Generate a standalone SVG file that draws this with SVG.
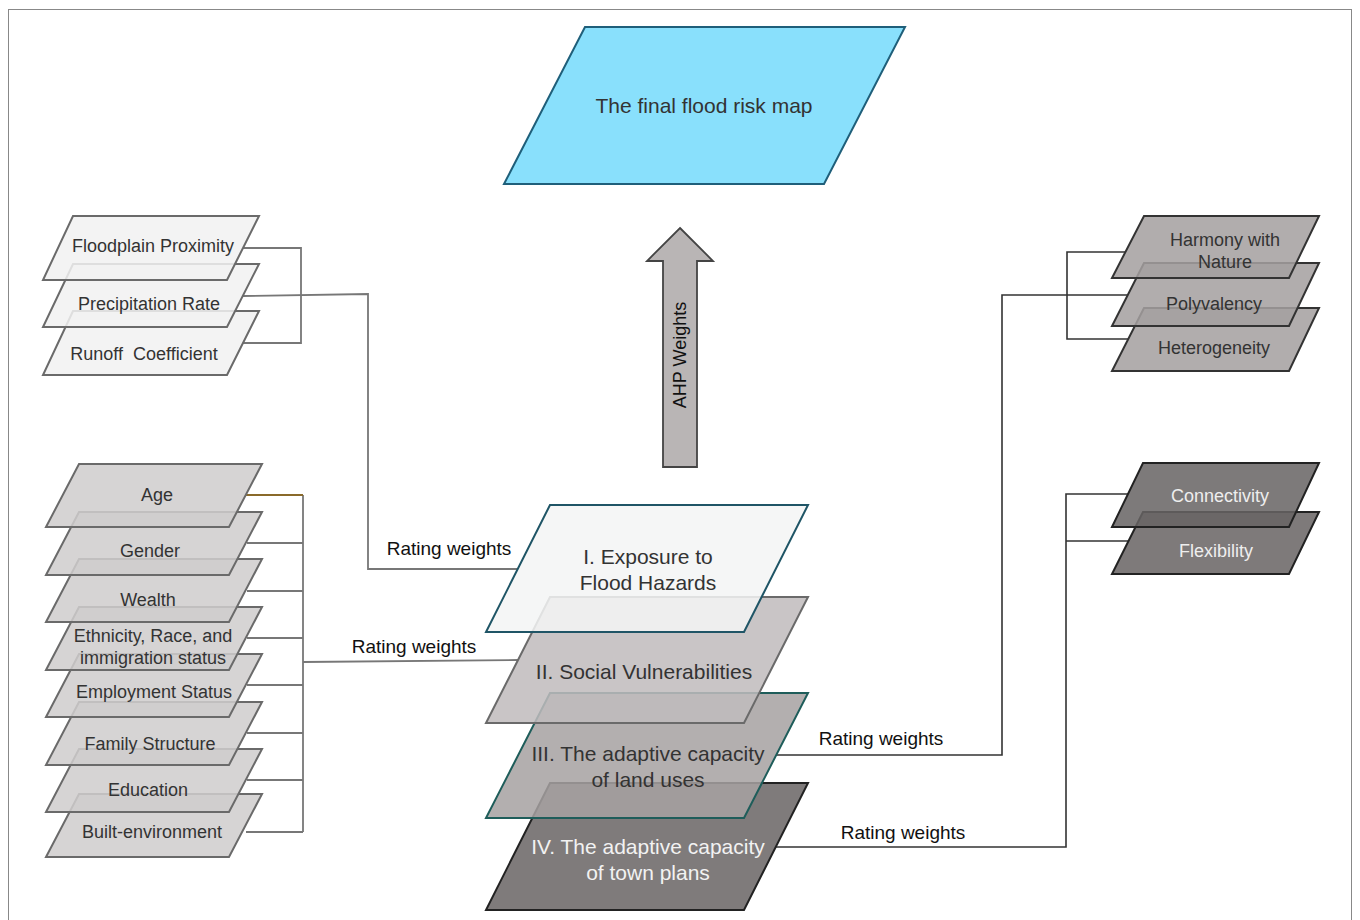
<svg xmlns="http://www.w3.org/2000/svg" width="1360" height="920" viewBox="0 0 1360 920">
<style>
text{font-family:"Liberation Sans",Arial,sans-serif;text-anchor:middle;fill:#333}
.f18{font-size:18px}
.f21{font-size:21px}
.lbl{font-size:19px;fill:#111}
.lay{stroke-width:2;fill-opacity:0.86}
.tf{fill:#f1f1f1;stroke:#6a6a6a}
.sf{fill:#cfcdcd;stroke:#6a6a6a}
.rf{fill:#a49f9f;stroke:#333}
.df{fill:#686464;stroke:#222}
.cg{fill:none;stroke:#777;stroke-width:1.8}
.cd{fill:none;stroke:#333;stroke-width:1.6}
</style>
<rect x="8.5" y="9.5" width="1343" height="930" fill="#fff" stroke="#888" stroke-width="1"/>

<g id="connectors">
<polyline class="cg" points="243,248 301,248 301,343 243,343"/>
<polyline class="cg" points="243,296 368,294 368,569 518,569"/>
<polyline class="cg" points="303,495 303,832"/>
<line x1="246" y1="495" x2="303" y2="495" stroke="#8a6a2a" stroke-width="1.8"/>
<line class="cg" x1="247" y1="543" x2="303" y2="543"/>
<line class="cg" x1="247" y1="591" x2="303" y2="591"/>
<line class="cg" x1="247" y1="638" x2="303" y2="638"/>
<line class="cg" x1="247" y1="685" x2="303" y2="685"/>
<line class="cg" x1="247" y1="733" x2="303" y2="733"/>
<line class="cg" x1="247" y1="780" x2="303" y2="780"/>
<line class="cg" x1="246" y1="832" x2="303" y2="832"/>
<polyline class="cg" points="303,662 518,660"/>
<polyline class="cd" points="776,755 1002,755 1002,295 1128,295"/>
<polyline class="cd" points="1126,252 1067,252 1067,339 1128,339"/>
<polyline class="cd" points="776,847 1066,847 1066,494 1128,494"/>
<line class="cd" x1="1066" y1="541" x2="1128" y2="541"/>
<text class="lbl" x="449" y="555">Rating weights</text>
<text class="lbl" x="414" y="653">Rating weights</text>
<text class="lbl" x="881" y="745">Rating weights</text>
<text class="lbl" x="903" y="839">Rating weights</text>
</g>

<g id="final-map">
<polygon points="585,27 905,27 824,184 504,184" fill="#89e0fc" stroke="#1f5f7a" stroke-width="2"/>
<text class="f21" x="704" y="113">The final flood risk map</text>
</g>

<g id="ahp-arrow">
<polygon points="680,228 713,261 697,261 697,467 663,467 663,261 647,261" fill="#b9b5b5" stroke="#444" stroke-width="1.8"/>
<text class="f18" x="0" y="0" transform="translate(686,355) rotate(-90)" style="fill:#111">AHP Weights</text>
</g>

<g id="hazard-factors">
<g id="runoff"><polygon class="lay tf" points="73,311 259,311 227,375 43,375"/><text class="f18" x="144" y="360" style="white-space:pre">Runoff  Coefficient</text></g>
<g id="precipitation"><polygon class="lay tf" points="73,264 259,264 227,327 43,327"/><text class="f18" x="149" y="310">Precipitation Rate</text></g>
<g id="floodplain"><polygon class="lay tf" points="73,216 259,216 227,280 43,280"/><text class="f18" x="153" y="252">Floodplain Proximity</text></g>
</g>

<g id="social-factors">
<g id="built"><polygon class="lay sf" points="79,794 262,794 229,857 46,857"/><text class="f18" x="152" y="838">Built-environment</text></g>
<g id="education"><polygon class="lay sf" points="79,749 262,749 229,812 46,812"/><text class="f18" x="148" y="796">Education</text></g>
<g id="family"><polygon class="lay sf" points="79,702 262,702 229,765 46,765"/><text class="f18" x="150" y="750">Family Structure</text></g>
<g id="employment"><polygon class="lay sf" points="79,654 262,654 229,717 46,717"/><text class="f18" x="154" y="698">Employment Status</text></g>
<g id="ethnicity"><polygon class="lay sf" points="79,607 262,607 229,670 46,670"/><text class="f18" x="153" y="642">Ethnicity, Race, and</text><text class="f18" x="153" y="664">immigration status</text></g>
<g id="wealth"><polygon class="lay sf" points="79,559 262,559 229,622 46,622"/><text class="f18" x="148" y="606">Wealth</text></g>
<g id="gender"><polygon class="lay sf" points="79,512 262,512 229,575 46,575"/><text class="f18" x="150" y="557">Gender</text></g>
<g id="age"><polygon class="lay sf" points="79,464 262,464 229,527 46,527"/><text class="f18" x="157" y="501">Age</text></g>
</g>

<g id="layers">
<g id="town-plans"><polygon points="550,783 808,783 744,910 486,910" fill="#7f7b7b" stroke="#222" stroke-width="2"/><text class="f21" x="648" y="854" style="fill:#f2f2f2">IV. The adaptive capacity</text><text class="f21" x="648" y="880" style="fill:#f2f2f2">of town plans</text></g>
<g id="land-uses"><polygon class="lay" points="550,693 808,693 744,818 486,818" fill="#a7a2a2" stroke="#1e5d5a"/><text class="f21" x="648" y="761">III. The adaptive capacity</text><text class="f21" x="648" y="787">of land uses</text></g>
<g id="social"><polygon class="lay" points="550,597 808,597 744,723 486,723" fill="#c0bcbd" stroke="#6a6a6a"/><text class="f21" x="644" y="679">II. Social Vulnerabilities</text></g>
<g id="exposure"><polygon class="lay" points="550,505 808,505 744,632 486,632" fill="#f3f4f4" stroke="#1f5566"/><text class="f21" x="648" y="564">I. Exposure to</text><text class="f21" x="648" y="590">Flood Hazards</text></g>
</g>

<g id="landuse-factors">
<g id="heterogeneity"><polygon class="lay rf" points="1144,308 1319,308 1289,371 1112,371"/><text class="f18" x="1214" y="354">Heterogeneity</text></g>
<g id="polyvalency"><polygon class="lay rf" points="1144,263 1319,263 1289,326 1112,326"/><text class="f18" x="1214" y="310">Polyvalency</text></g>
<g id="harmony"><polygon class="lay rf" points="1144,216 1319,216 1289,278 1112,278"/><text class="f18" x="1225" y="246">Harmony with</text><text class="f18" x="1225" y="268">Nature</text></g>
</g>

<g id="plan-factors">
<g id="flexibility"><polygon points="1143,512 1319,512 1289,574 1112,574" fill="#7e7a7a" stroke="#222" stroke-width="2"/><text class="f18" x="1216" y="557" style="fill:#eee">Flexibility</text></g>
<g id="connectivity"><polygon class="lay df" points="1143,463 1319,463 1289,527 1112,527"/><text class="f18" x="1220" y="502" style="fill:#eee">Connectivity</text></g>
</g>
</svg>
